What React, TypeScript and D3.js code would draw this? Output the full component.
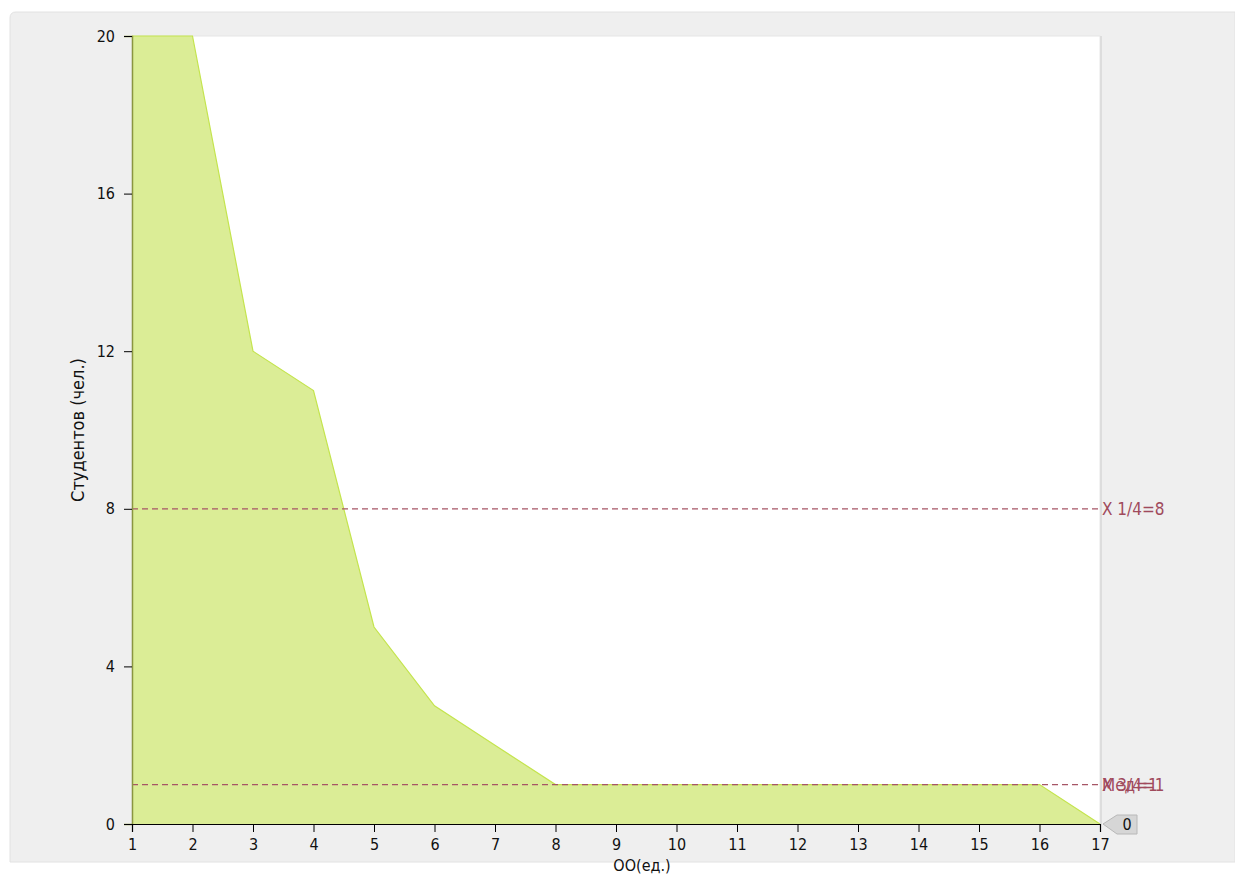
import React, { useEffect, useRef } from 'react';
import * as d3 from 'd3';

// ОО на оси X и число студентов
const schools = [1, 2, 3, 4, 5, 6, 7, 8, 9, 10, 11, 12, 13, 14, 15, 16, 17];
const students = [20, 20, 12, 11, 5, 3, 2, 1, 1, 1, 1, 1, 1, 1, 1, 1, 0];
const yTicks = [0, 4, 8, 12, 16, 20];
const refLines = [
  { value: 8, labels: ['X 1/4=8'] },
  { value: 1, labels: ['Мед=1', 'X 3/4=1'] },
];
const lastValueLabel = '0';

const W = 1235;
const H = 875;

const App: React.FC = () => {
  const svgRef = useRef<SVGSVGElement>(null);

  useEffect(() => {
    if (!svgRef.current) return;
    const svg = d3.select(svgRef.current);
    svg.selectAll('*').remove();

    const plot = { left: 132, right: 1100, top: 36, bottom: 824 };
    const x = d3.scaleLinear().domain([1, 17]).range([plot.left, plot.right]);
    const y = d3.scaleLinear().domain([0, 20]).range([plot.bottom, plot.top]);
    const font = '"DejaVu Sans Condensed", "Liberation Sans", Arial, sans-serif';

    // panel
    svg.append('path')
      .attr('d', `M10,${H - 13} V18 Q10,12 16,12 H${W} V${H - 13} Z`)
      .attr('fill', '#efefef')
      .attr('stroke', '#e2e2e2');

    // plot background
    svg.append('rect')
      .attr('x', plot.left).attr('y', plot.top)
      .attr('width', plot.right - plot.left).attr('height', plot.bottom - plot.top)
      .attr('fill', '#fff')
      .attr('stroke', '#e6e6e6');
    svg.append('line')
      .attr('x1', plot.right + 1).attr('x2', plot.right + 1)
      .attr('y1', plot.top).attr('y2', plot.bottom)
      .attr('stroke', '#dddddd').attr('stroke-width', 2);

    const data = schools.map((s, i) => [s, students[i]] as [number, number]);

    const area = d3.area<[number, number]>()
      .x(d => x(d[0]))
      .y0(y(0))
      .y1(d => y(d[1]));
    svg.append('path')
      .datum(data)
      .attr('d', area)
      .attr('fill', '#dbed96');

    const line = d3.line<[number, number]>().x(d => x(d[0])).y(d => y(d[1]));
    svg.append('path')
      .datum(data)
      .attr('d', line)
      .attr('fill', 'none')
      .attr('stroke', '#c4e44e')
      .attr('stroke-width', 1.2);

    // reference lines
    refLines.forEach(r => {
      svg.append('line')
        .attr('x1', plot.left).attr('x2', plot.right)
        .attr('y1', y(r.value)).attr('y2', y(r.value))
        .attr('stroke', '#a65566')
        .attr('stroke-width', 1.3)
        .attr('stroke-dasharray', '6,4');
      r.labels.forEach(t => {
        svg.append('text')
          .attr('x', plot.right + 2)
          .attr('y', y(r.value))
          .attr('dy', '0.35em')
          .attr('fill', '#a04a5c')
          .style('font-family', font)
          .style('font-size', '17px')
          .text(t);
      });
    });

    // y axis
    const yAxis = svg.append('g')
      .attr('transform', `translate(${plot.left},0)`)
      .call(d3.axisLeft(y).tickValues(yTicks).tickSize(8).tickPadding(9));
    yAxis.select('.domain').attr('stroke', '#8a9640').attr('stroke-width', 1.5);
    yAxis.selectAll('.tick line').attr('stroke', '#000');
    yAxis.selectAll('.tick text')
      .style('font-family', font).style('font-size', '16px').attr('fill', '#111');

    // x axis
    const xAxis = svg.append('g')
      .attr('transform', `translate(0,${plot.bottom})`)
      .call(d3.axisBottom(x).tickValues(schools).tickSize(8).tickPadding(7).tickFormat(d3.format('d')));
    xAxis.select('.domain').attr('stroke', '#000').attr('stroke-width', 1.2);
    xAxis.selectAll('.tick line').attr('stroke', '#000');
    xAxis.selectAll('.tick text')
      .style('font-family', font).style('font-size', '16px').attr('fill', '#111');

    // axis titles
    svg.append('text')
      .attr('transform', `translate(84,${(plot.top + plot.bottom) / 2}) rotate(-90)`)
      .attr('text-anchor', 'middle')
      .style('font-family', font)
      .style('font-size', '18px')
      .attr('fill', '#111')
      .text('Студентов (чел.)');
    svg.append('text')
      .attr('x', 642)
      .attr('y', 871)
      .attr('text-anchor', 'middle')
      .style('font-family', font)
      .style('font-size', '16px')
      .attr('fill', '#111')
      .text('ОО(ед.)');

    // value callout at last point
    const px = x(schools[schools.length - 1]);
    const py = y(students[students.length - 1]);
    svg.append('path')
      .attr('d', `M${px + 3},${py} L${px + 17},${py - 9} H${px + 37} V${py + 10} H${px + 17} Z`)
      .attr('fill', '#d6d6d6')
      .attr('stroke', '#b8b8b8');
    svg.append('text')
      .attr('x', px + 27)
      .attr('y', py)
      .attr('dy', '0.35em')
      .attr('text-anchor', 'middle')
      .style('font-family', font)
      .style('font-size', '16px')
      .attr('fill', '#111')
      .text(lastValueLabel);
  }, []);

  return (
    <svg
      ref={svgRef}
      width={W}
      height={H}
      style={{ position: 'absolute', left: 0, top: 0 }}
    />
  );
};

export default App;
